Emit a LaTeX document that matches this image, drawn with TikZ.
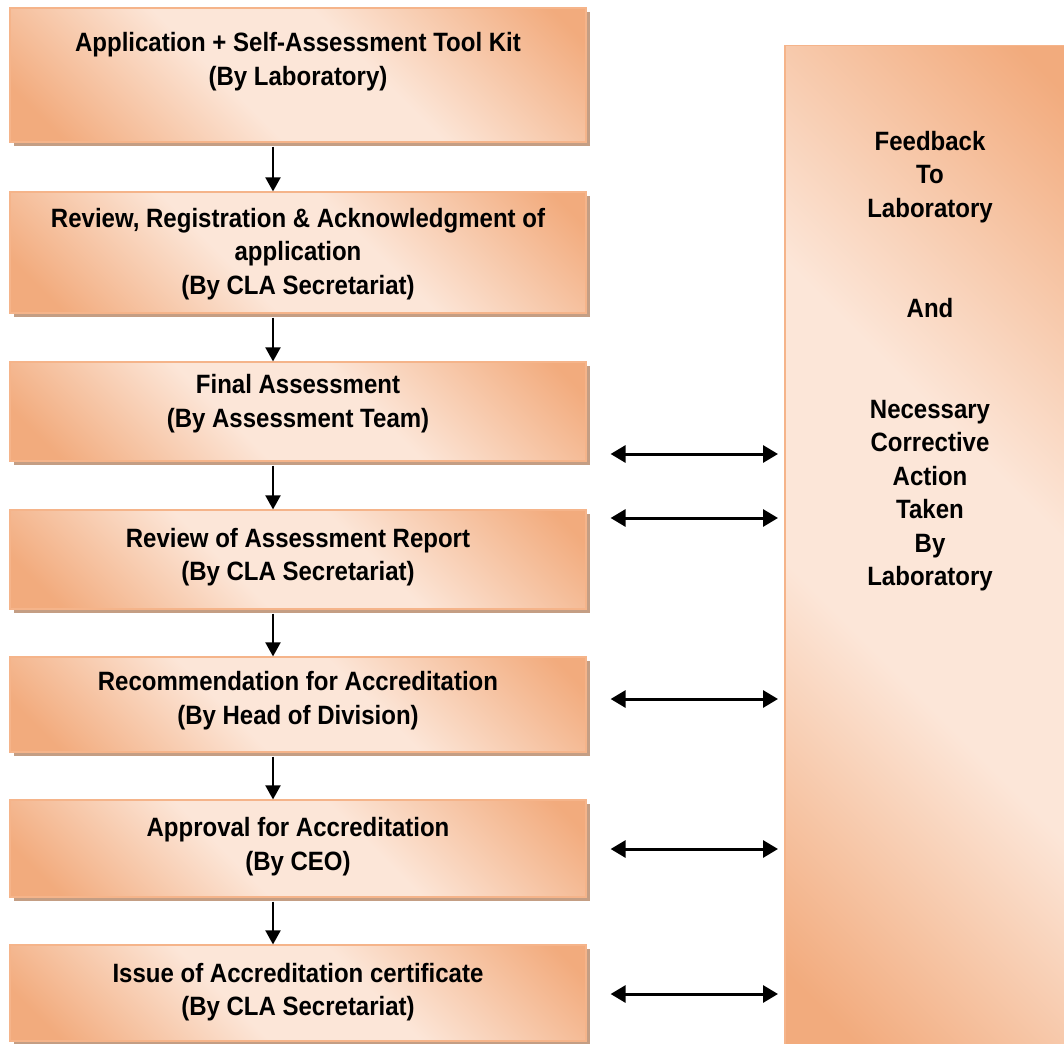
\documentclass[tikz,border=0pt]{standalone}
\usepackage{fontspec}
\setmainfont[FakeStretch=0.906]{Liberation Sans}
\usetikzlibrary{arrows.meta,shadows}
\definecolor{pdark}{HTML}{F2AB7D}
\definecolor{plight}{HTML}{FCE6D8}
\definecolor{pborder}{HTML}{F5B48A}
\definecolor{pshadow}{HTML}{C49E84}
\pgfdeclareverticalshading{peach}{100bp}{color(0bp)=(pdark); color(20bp)=(pdark); color(42bp)=(plight); color(58bp)=(plight); color(82bp)=(pdark); color(100bp)=(pdark)}
\begin{document}
\begin{tikzpicture}[x=1pt,y=-1pt,
  lbox/.style={draw=pborder, line width=1.2pt, shading=peach, shading angle=-45,
    minimum width=576pt, inner sep=0pt,
    drop shadow={shadow xshift=4pt, shadow yshift=-4pt, fill=pshadow, opacity=1}},
  rbox/.style={draw=pborder, line width=1.5pt, shading=peach, shading angle=-45,
    minimum width=300pt, minimum height=1030pt, inner sep=0pt, anchor=north west},
  txt/.style={align=center, font=\fontsize{26.5}{33.5}\selectfont\bfseries, inner sep=0pt},
  varrow/.style={line width=2pt, -{Triangle[length=14pt,width=15pt]}, shorten <=4pt},
  darrow/.style={line width=3pt, {Triangle[length=15pt,width=17pt]}-{Triangle[length=15pt,width=17pt]},
    shorten <=24pt, shorten >=6pt}]
\useasboundingbox (0,0) rectangle (1064,1043);
\clip (0,0) rectangle (1064,1043);
\fill[white] (0,0) rectangle (1064,1043);

% right feedback box
\node[rbox] (fb) at (784,45) {};
\node[txt] (tfb) at (930,361) {Feedback\\To\\Laboratory\\[67pt]And\\[67pt]Necessary\\Corrective\\Action\\Taken\\By\\Laboratory};

% left boxes
\node[lbox, minimum height=134pt] (b1) at (298,75) {};
\node[lbox, minimum height=121pt] (b2) at (298,252.5) {};
\node[lbox, minimum height=99pt] (b3) at (298,411.5) {};
\node[lbox, minimum height=99pt] (b4) at (298,559.5) {};
\node[lbox, minimum height=95pt] (b5) at (298,704.5) {};
\node[lbox, minimum height=97pt] (b6) at (298,848.5) {};
\node[lbox, minimum height=96pt] (b7) at (298,993) {};

\node[txt] (t1) at (298,61.5) {Application + Self-Assessment Tool Kit\\(By Laboratory)};
\node[txt] (t2) at (298,254) {Review, Registration \& Acknowledgment of\\application\\(By CLA Secretariat)};
\node[txt] (t3) at (298,403.5) {Final Assessment\\(By Assessment Team)};
\node[txt] (t4) at (298,557) {Review of Assessment Report\\(By CLA Secretariat)};
\node[txt] (t5) at (298,700.5) {Recommendation for Accreditation\\(By Head of Division)};
\node[txt] (t6) at (298,846.5) {Approval for Accreditation\\(By CEO)};
\node[txt] (t7) at (298,992) {Issue of Accreditation certificate\\(By CLA Secretariat)};

% vertical arrows
\coordinate (ax) at (273,0);
\draw[varrow] (b1.south -| ax) -- (b2.north -| ax);
\draw[varrow] (b2.south -| ax) -- (b3.north -| ax);
\draw[varrow] (b3.south -| ax) -- (b4.north -| ax);
\draw[varrow] (b4.south -| ax) -- (b5.north -| ax);
\draw[varrow] (b5.south -| ax) -- (b6.north -| ax);
\draw[varrow] (b6.south -| ax) -- (b7.north -| ax);

% double arrows
\draw[darrow] (b3.east |- 0,454) -- (fb.west |- 0,454);
\draw[darrow] (b4.east |- 0,518) -- (fb.west |- 0,518);
\draw[darrow] (b5.east |- 0,699) -- (fb.west |- 0,699);
\draw[darrow] (b6.east |- 0,849) -- (fb.west |- 0,849);
\draw[darrow] (b7.east |- 0,994) -- (fb.west |- 0,994);
\end{tikzpicture}
\end{document}
